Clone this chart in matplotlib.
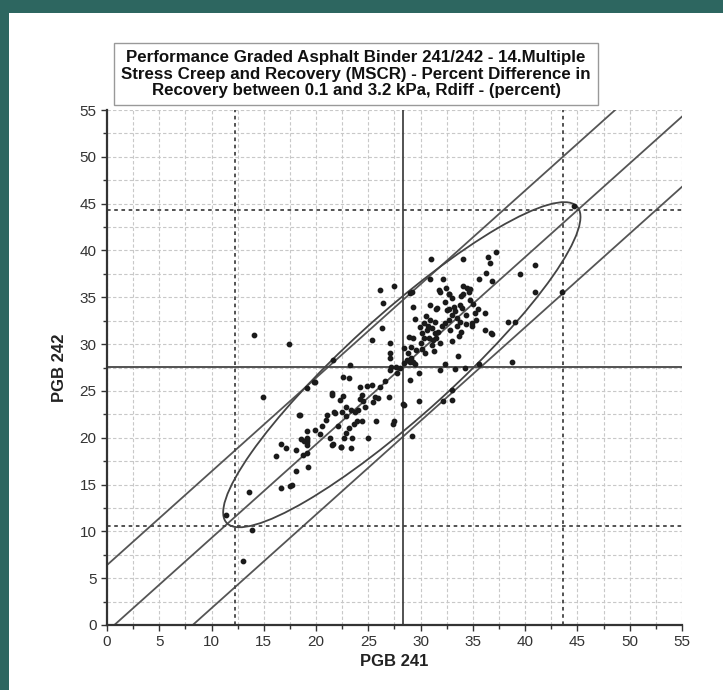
import matplotlib.pyplot as plt
from matplotlib.patches import Ellipse, Rectangle
from matplotlib.ticker import MultipleLocator

# PGB 241 (x) vs PGB 242 (y)
pgb241 = [11.4, 13.9, 13.0, 13.6, 14.1, 17.4, 14.9,
          16.6, 17.1, 16.2, 18.1, 18.7, 19.1, 19.1, 21.6, 22.4, 18.1, 19.2, 16.6, 17.5, 17.7,
          18.4, 19.1, 19.8, 21.6, 19.9, 18.6, 19.1, 19.1,
          23.2, 22.6, 23.1, 21.5, 21.5, 24.2, 24.9, 25.3, 26.1, 24.4, 24.2, 24.5, 22.6, 22.3,
          22.9, 23.3, 23.7, 24.0, 22.5, 21.8, 21.0, 20.9, 22.9, 23.6, 23.1, 22.9, 23.4, 22.7,
          24.4, 25.7, 25.4, 25.9, 27.0, 25.0, 23.3, 22.4, 21.5, 21.3, 19.9, 20.4, 19.1, 18.8,
          19.1, 18.5, 21.7, 27.4, 27.5, 29.2, 28.3, 29.8, 29.0, 29.8, 27.1, 27.6, 28.0, 27.7,
          28.4, 29.0, 29.5,
          29.3, 29.5, 30.9, 31.5, 31.9, 32.3, 32.7, 33.0, 33.8, 33.9, 34.7, 32.7, 33.0, 33.3,
          33.5, 33.8, 34.3, 34.3, 35.2, 35.5, 36.2, 34.9, 34.9, 33.9, 36.2, 36.7, 38.4, 39.0,
          30.3, 30.9, 31.4, 30.6, 31.1, 31.4, 31.7, 32.0, 32.3, 32.7, 30.1, 30.3, 30.8, 31.2,
          31.5, 31.9, 31.1, 33.0, 30.0, 29.3, 29.1, 29.6, 30.1, 30.4, 28.4, 28.8, 29.1, 29.3,
          28.7, 32.3, 31.9, 33.3, 33.6, 38.7, 33.0, 32.1, 28.4, 27.1, 27.1, 27.2, 34.6, 33.5,
          32.8,
          31.0, 34.1, 36.4, 37.2, 36.6, 36.3, 35.6, 36.8, 32.1, 30.9, 32.4, 31.8, 34.1, 34.4,
          34.7, 34.1, 32.7, 39.5, 40.9, 40.9, 29.2, 43.5, 36.8, 44.7,
          26.1, 27.5, 26.4, 29.0, 26.3, 25.3, 27.1, 34.2, 35.6, 33.0, 25.6, 28.9, 30.5, 31.6,
          32.5, 33.2, 34.0, 35.0, 30.7, 29.9, 24.7, 23.9, 22.1, 20.6, 26.6, 31.3, 33.7, 35.3]
pgb242 = [11.7, 10.1, 6.8, 14.2, 31.0, 30.0, 24.3,
          19.3, 18.9, 18.0, 18.7, 18.2, 18.4, 19.5, 19.3, 19.0, 16.5, 16.9, 14.6, 14.8, 15.0,
          22.4, 25.3, 26.0, 28.3, 25.9, 19.9, 20.7, 19.8,
          27.8, 26.5, 26.4, 24.8, 24.6, 25.4, 25.5, 25.6, 25.4, 24.6, 24.1, 23.9, 24.5, 24.0,
          23.3, 23.0, 22.8, 23.0, 22.8, 22.6, 22.4, 21.9, 22.3, 21.5, 21.0, 20.5, 20.0, 20.0,
          21.8, 21.8, 23.8, 24.2, 24.3, 20.0, 18.9, 19.0, 19.2, 20.0, 20.8, 20.4, 20.0, 19.7,
          19.2, 22.4, 22.7, 21.5, 21.8, 20.2, 23.6, 23.9, 26.2, 26.9, 27.2, 27.6, 27.4, 26.9,
          28.0, 28.1, 27.9,
          34.0, 32.7, 34.2, 33.8, 35.6, 34.5, 35.3, 34.9, 34.2, 35.1, 34.7, 33.7, 33.1, 33.5,
          32.8, 32.4, 33.1, 32.1, 33.3, 33.7, 33.3, 32.2, 31.9, 31.3, 31.5, 31.2, 32.4, 32.4,
          32.2, 32.6, 32.4, 31.5, 31.7, 31.2, 31.3, 31.9, 32.2, 32.6, 31.2, 30.6, 30.6, 30.4,
          30.6, 30.1, 29.9, 30.3, 30.1, 30.6, 29.7, 29.4, 29.5, 29.0, 29.6, 29.0, 28.5, 28.1,
          28.3, 27.9, 27.2, 27.3, 28.7, 28.1, 25.1, 23.9, 23.5, 30.1, 29.0, 27.6, 35.6, 31.9,
          31.5,
          39.1, 39.1, 39.3, 39.8, 38.7, 37.6, 36.9, 36.7, 37.0, 37.0, 36.0, 35.8, 36.2, 36.0,
          35.9, 35.3, 35.3, 37.5, 38.4, 35.6, 35.6, 35.6, 31.1, 44.8,
          35.8, 36.2, 34.4, 35.5, 31.7, 30.4, 28.5, 27.5, 27.9, 24.0, 24.3, 30.8, 33.0, 33.9,
          33.6, 34.0, 33.9, 34.3, 31.9, 31.8, 23.3, 21.8, 21.3, 21.2, 26.1, 29.3, 30.9, 32.6]

# reference lines
mean_241 = 28.3
mean_242 = 27.6
limits_241 = [12.2, 43.6]
limits_242 = [10.6, 44.3]
diag_offsets = [6.4, -0.7, -8.2]
ellipse_center = (28.2, 27.8)
ellipse_axes = (47.6, 10.4)
ellipse_angle = 45.5

fig = plt.figure(figsize=(7.23, 6.9), dpi=100, facecolor='#2d6660')
fig.patches.append(Rectangle((9 / 723, 0), 1, 1 - 13 / 690, transform=fig.transFigure,
                             facecolor='white', edgecolor='none', zorder=-10))
ax = fig.add_axes([107 / 723, 65 / 690, 575 / 723, 515 / 690])
ax.set_facecolor('none')

ax.set_xlim(0, 55)
ax.set_ylim(0, 55)
ax.xaxis.set_major_locator(MultipleLocator(5))
ax.yaxis.set_major_locator(MultipleLocator(5))
ax.xaxis.set_minor_locator(MultipleLocator(2.5))
ax.yaxis.set_minor_locator(MultipleLocator(2.5))
ax.grid(which='both', color='#c8c8c8', linestyle=(0, (3, 2)), linewidth=0.8)
ax.set_axisbelow(True)

for s in ['top', 'right']:
    ax.spines[s].set_visible(False)
for s in ['left', 'bottom']:
    ax.spines[s].set_linewidth(1.6)
    ax.spines[s].set_color('#333333')
ax.tick_params(which='major', length=4, width=1, color='#333333', labelsize=11,
               labelcolor='#333333')
ax.tick_params(which='minor', length=3, width=1, color='#333333')

xs = [0, 55]
for c in diag_offsets:
    ax.plot(xs, [x + c for x in xs], color='#555555', lw=1.3, zorder=2)

ax.axvline(mean_241, color='#444444', lw=1.3, zorder=2)
ax.axhline(mean_242, color='#444444', lw=1.3, zorder=2)
for v in limits_241:
    ax.axvline(v, color='#444444', lw=1.3, linestyle=(0, (2, 2)), zorder=2)
for v in limits_242:
    ax.axhline(v, color='#444444', lw=1.3, linestyle=(0, (2, 2)), zorder=2)

ax.add_patch(Ellipse(ellipse_center, ellipse_axes[0], ellipse_axes[1], angle=ellipse_angle,
                     fill=False, edgecolor='#444444', lw=1.3, zorder=3))

ax.scatter(pgb241, pgb242, s=10, color='#1a1a1a', zorder=4, clip_on=False)

ax.set_xlabel('PGB 241', fontsize=12, fontweight='bold', family='Liberation Sans',
              color='#222222', labelpad=3)
ax.set_ylabel('PGB 242', fontsize=12, fontweight='bold', family='Liberation Sans',
              color='#222222', labelpad=9)
for lab in ax.get_xticklabels() + ax.get_yticklabels():
    lab.set_family('Liberation Sans')

fig.text(356 / 723, 1 - 74 / 690,
         'Performance Graded Asphalt Binder 241/242 - 14.Multiple\n'
         'Stress Creep and Recovery (MSCR) - Percent Difference in\n'
         'Recovery between 0.1 and 3.2 kPa, Rdiff - (percent)',
         ha='center', va='center', fontsize=12.2, fontweight='bold',
         family='Liberation Sans', color='#111111', linespacing=1.15,
         bbox=dict(boxstyle='square,pad=0.4', facecolor='white', edgecolor='#999999', lw=1),
         zorder=10)

fig.savefig('out.png', dpi=100)
